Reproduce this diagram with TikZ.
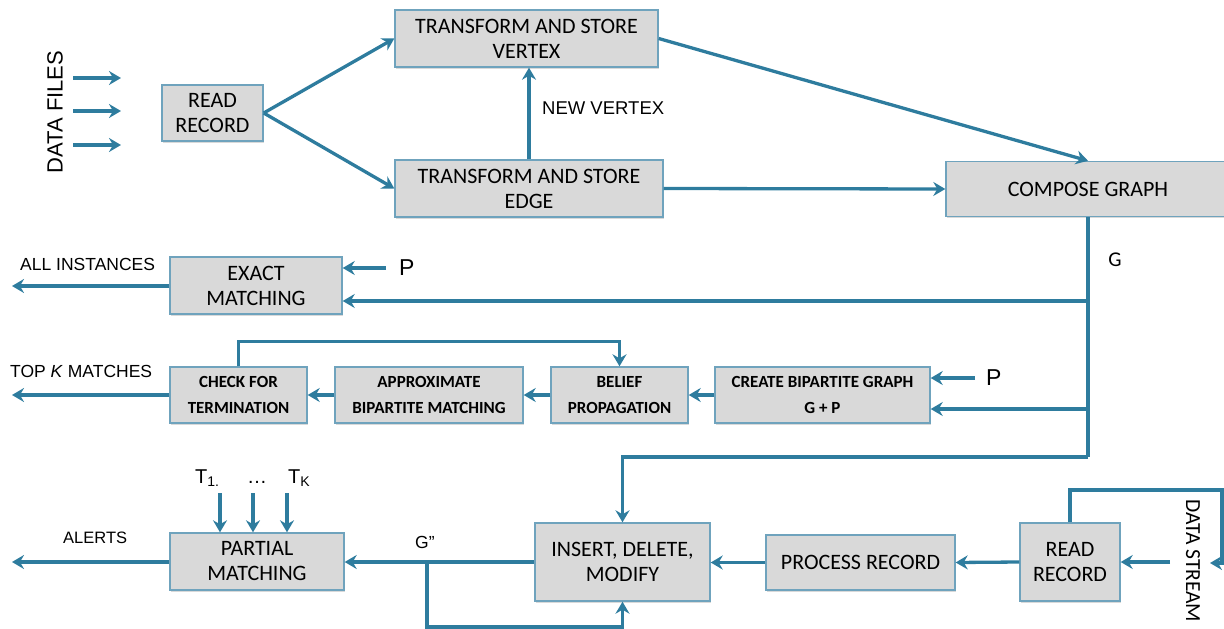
\documentclass[tikz,border=0pt]{standalone}
\usepackage{fontspec}
\usetikzlibrary{arrows.meta,shadows}
\newfontfamily\carlito{Carlito}
\newfontfamily\arial{Liberation Sans}
\definecolor{flowc}{HTML}{2E7C9E}
\definecolor{boxedge}{HTML}{6FA3BD}
\definecolor{boxfill}{HTML}{D9D9D9}
\tikzset{
  box/.style={draw=boxedge, fill=boxfill, line width=1.4pt, inner sep=0pt,
    align=center, font=\carlito\fontsize{22}{25}\selectfont,
    drop shadow={shadow xshift=1.2pt, shadow yshift=-1.5pt, opacity=.15, fill=black}},
  smallbox/.style={box, font=\carlito\bfseries\fontsize{17}{26}\selectfont},
  wire/.style={draw=flowc, line width=3.3pt},
  flow/.style={wire, -{Stealth[length=12pt, width=14pt, inset=4pt]}},
  lbl/.style={inner sep=0pt, font=\arial\fontsize{17.5}{20}\selectfont},
}
\begin{document}
\begin{tikzpicture}[x=1pt, y=-1pt]
\useasboundingbox (0,0) rectangle (1224,629);

% ---- graph construction from files ----
\node[lbl, font=\arial\fontsize{22}{24}\selectfont, rotate=90] (df) at (55,112) {DATA FILES};
\foreach \yy [count=\i] in {78,111,145} {
  \coordinate (dfa\i) at (73,\yy);
  \coordinate (dfb\i) at (121,\yy);
  \draw[flow] (dfa\i) -- (dfb\i);
}
\node[box, minimum width=101pt, minimum height=56pt] (rr1) at (212.5,113) {READ\\RECORD};
\node[box, minimum width=263pt, minimum height=57pt] (tv) at (526.5,38.5) {TRANSFORM AND STORE\\VERTEX};
\node[box, minimum width=268pt, minimum height=57pt] (te) at (529,188.5) {TRANSFORM AND STORE\\EDGE};
\node[box, minimum width=284pt, minimum height=55pt] (cg) at (1088,189) {COMPOSE GRAPH};
\node[lbl, font=\arial\fontsize{18.5}{20}\selectfont, anchor=west] (nv) at (542,108) {NEW VERTEX};

\draw[flow] (rr1.east) -- (tv.west);
\draw[flow] (rr1.east) -- (te.west);
\draw[flow] (te.north) -- (te.north |- tv.south);
\draw[flow] (tv.east) -- (cg.north);
\draw[flow] (te.east) -- (cg.west);

% ---- G distribution spine ----
\node[font=\carlito\fontsize{21}{24}\selectfont, inner sep=0pt] (glbl) at (1115,260) {G};
\coordinate (gsplit1) at (1088,301);
\coordinate (gsplit2) at (1088,409);
\coordinate (gturn) at (1088,457);

% exact matching
\node[box, minimum width=172pt, minimum height=57pt] (em) at (256,285.5) {EXACT\\MATCHING};
\node[lbl, font=\arial\fontsize{23}{26}\selectfont, anchor=west] (p1) at (399,268) {P};
\coordinate (p1s) at (386,268);
\coordinate (aiend) at (12,286);
\node[lbl, anchor=base west] (ai) at (20,270) {ALL INSTANCES};
\draw[flow] (p1s) -- (em.east |- p1s);
\draw[flow] (gsplit1) -- (em.east |- gsplit1);
\draw[flow] (em.west |- aiend) -- (aiend);

% approximate matching
\node[smallbox, minimum width=137pt, minimum height=56pt] (ct) at (238.5,395) {CHECK FOR\\TERMINATION};
\node[smallbox, minimum width=188pt, minimum height=56pt] (ab) at (429,395) {APPROXIMATE\\BIPARTITE MATCHING};
\node[smallbox, minimum width=137pt, minimum height=56pt] (bp) at (619.5,395) {BELIEF\\PROPAGATION};
\node[smallbox, minimum width=215pt, minimum height=56pt] (cb) at (822.5,395) {CREATE BIPARTITE GRAPH\\G + P};
\node[lbl, font=\arial\fontsize{23}{26}\selectfont, anchor=west] (p2) at (986,378) {P};
\coordinate (p2s) at (975,378);
\coordinate (tkend) at (12,395);
\node[lbl, anchor=base west] (tk) at (10,377) {TOP \textit{K} MATCHES};
\draw[flow] (p2s) -- (cb.east |- p2s);
\draw[flow] (gsplit2) -- (cb.east |- gsplit2);
\draw[flow] (cb.west) -- (bp.east);
\draw[flow] (bp.west) -- (ab.east);
\draw[flow] (ab.west) -- (ct.east);
\draw[flow] (ct.west) -- (tkend);
\draw[flow] (ct.north) -- ++(0,-25) -| (bp.north);

% ---- streaming update ----
\node[box, minimum width=174pt, minimum height=57pt] (pm) at (257,561.5) {PARTIAL\\MATCHING};
\node[box, minimum width=175pt, minimum height=78pt] (idm) at (622.5,562) {INSERT, DELETE,\\MODIFY};
\node[box, minimum width=189pt, minimum height=55pt] (pr) at (860.5,562.5) {PROCESS RECORD};
\node[box, minimum width=100pt, minimum height=78pt] (rr2) at (1070,562) {READ\\RECORD};
\node[font=\carlito\fontsize{21.5}{24}\selectfont, inner sep=0pt, rotate=-90] (ds) at (1193,561) {DATA STREAM};

\draw[wire] (cg.south) -- (gturn);
\draw[flow] (gturn) -| (idm.north);

\node[lbl, font=\arial\fontsize{20}{22}\selectfont, anchor=base west] (t1) at (195,483) {T\textsubscript{1.}};
\node[lbl, font=\arial\fontsize{20}{22}\selectfont, anchor=base] (tdots) at (257,483) {\dots};
\node[lbl, font=\arial\fontsize{20}{22}\selectfont, anchor=base west] (tk2) at (288,483) {T\textsubscript{K}};
\foreach \xx [count=\i] in {220,253,287} {
  \coordinate (tin\i) at (\xx,493);
  \draw[flow] (tin\i) -- (tin\i |- pm.north);
}
\node[lbl, font=\arial\fontsize{16.5}{20}\selectfont, anchor=base west] (al) at (63,543) {ALERTS};
\coordinate (alend) at (12,562);
\draw[flow] (pm.west |- alend) -- (alend);

\node[lbl, anchor=base west] (g2) at (415,548) {G\textquotedblright};
\coordinate (gbr) at (427,562);
\draw[flow] (idm.west) -- (pm.east |- idm.west);
\draw[flow] (gbr) -- (gbr |- 0,627) -| (idm.south);

\draw[flow] (rr2.west) -- (pr.east);
\draw[flow] (pr.west) -- (idm.east |- pr.west);
\coordinate (dsin) at (1170,562);
\draw[flow] (dsin) -- (rr2.east);
\coordinate (loopc) at (1222,490);
\coordinate (loopd) at (1222,563);
\coordinate (loope) at (1210,563);
\draw[flow] (rr2.north) |- (loopc) -- (loopd) -- (loope);
\end{tikzpicture}
\end{document}
